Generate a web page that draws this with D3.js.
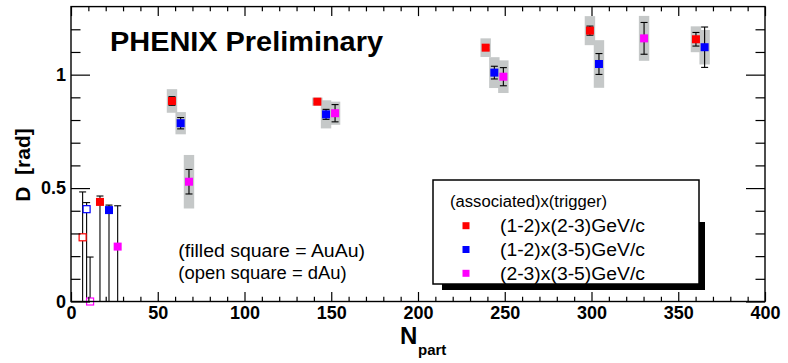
<!DOCTYPE html>
<html>
<head>
<meta charset="utf-8">
<script src="https://cdn.jsdelivr.net/npm/d3@7"></script>
<style>
  body { margin: 0; background: #fff; }
  svg { display: block; font-family: "Liberation Sans", Arial, Helvetica, sans-serif; }
</style>
</head>
<body>
<div id="chartArea"></div>
<script>
// (1-2)x(2-3) GeV/c, AuAu
const redN = [16.7, 58.2, 142.0, 239.0, 299.1, 360.2];
const redD = [0.439, 0.884, 0.881, 1.119, 1.194, 1.156];
const redUp = [0.026, 0.019, 0.008, 0.01, 0.02, 0.03];
const redLo = [0.439, 0.019, 0.008, 0.01, 0.02, 0.03];
const redSys = [0, 0.052, 0.018, 0.041, 0.064, 0.057];

// (1-2)x(3-5) GeV/c, AuAu
const blueN = [21.9, 63.2, 147.0, 244.0, 304.3, 365.2];
const blueD = [0.403, 0.786, 0.825, 1.009, 1.047, 1.121];
const blueUp = [0.022, 0.025, 0.022, 0.028, 0.046, 0.089];
const blueLo = [0.403, 0.025, 0.022, 0.028, 0.046, 0.089];
const blueSys = [0, 0.049, 0.062, 0.068, 0.105, 0.076];

// (2-3)x(3-5) GeV/c, AuAu
const magN = [26.9, 68.0, 152.2, 249.2, 330.3];
const magD = [0.242, 0.528, 0.830, 0.991, 1.160];
const magUp = [0.18, 0.054, 0.038, 0.04, 0.07];
const magLo = [0.242, 0.054, 0.038, 0.04, 0.07];
const magSys = [0, 0.118, 0.051, 0.072, 0.099];

// dAu (open squares), order red, blue, magenta
const dauN = [6.7, 9.0, 11.0];
const dauD = [0.283, 0.407, 0.0];
const dauUp = [0.2, 0.029, 0.196];
const dauLo = [0.283, 0.407, 0];

const legendTitle = "(associated)x(trigger)";
const legendLabels = ["(1-2)x(2-3)GeV/c", "(1-2)x(3-5)GeV/c", "(2-3)x(3-5)GeV/c"];
const colors = ["#ff0000", "#0000ff", "#ff00ff"];

const xMajor = d3.range(0, 401, 50);
const xMinor = d3.range(0, 401, 10).filter(v => v % 50 !== 0);
const yMajor = [0, 0.5, 1];
const yMinor = d3.range(1, 13).map(v => v / 10).filter(v => v !== 0.5 && v !== 1);

(function() {
  const W = 788, H = 363;
  const margin = { top: 6.6, right: 23, bottom: 61.5, left: 71 };

  const svg = d3
    .select("#chartArea")
    .append("svg")
    .attr("width", W)
    .attr("height", H);

  const xScale = d3.scaleLinear().domain([0, 400]).range([margin.left, W - margin.right]);
  const yScale = d3.scaleLinear().domain([0, 1.3]).range([H - margin.bottom, margin.top]);

  const x0 = xScale(0), x1 = xScale(400), y0 = yScale(0), y1 = yScale(1.3);

  const series = [
    { n: redN, d: redD, up: redUp, lo: redLo, sys: redSys, c: colors[0] },
    { n: blueN, d: blueD, up: blueUp, lo: blueLo, sys: blueSys, c: colors[1] },
    { n: magN, d: magD, up: magUp, lo: magLo, sys: magSys, c: colors[2] }
  ];
  const pts = [];
  series.forEach(s => {
    s.n.forEach((n, i) => pts.push({ n, d: s.d[i], up: s.up[i], lo: s.lo[i], sys: s.sys[i], c: s.c, open: false }));
  });
  dauN.forEach((n, i) => pts.push({ n, d: dauD[i], up: dauUp[i], lo: dauLo[i], sys: 0, c: colors[i], open: true }));

  const plot = svg.append("g");

  // systematic boxes
  const boxHalf = 3;
  plot.selectAll("rect.sys")
    .data(pts.filter(p => p.sys > 0))
    .enter()
    .append("rect")
    .attr("class", "sys")
    .attr("x", p => xScale(p.n - boxHalf))
    .attr("y", p => yScale(p.d + p.sys))
    .attr("width", p => xScale(p.n + boxHalf) - xScale(p.n - boxHalf))
    .attr("height", p => yScale(p.d - p.sys) - yScale(p.d + p.sys))
    .attr("fill", "#c5c8c8");

  // stat error bars
  const cap = 3.5;
  const eg = plot.append("g").attr("stroke", "#000").attr("stroke-width", 1.1).attr("fill", "none");
  pts.forEach(p => {
    const cx = xScale(p.n);
    const top = yScale(Math.min(p.d + p.up, 1.3));
    const bot = yScale(Math.max(p.d - p.lo, 0));
    eg.append("line").attr("x1", cx).attr("x2", cx).attr("y1", top).attr("y2", bot);
    eg.append("line").attr("x1", cx - cap).attr("x2", cx + cap).attr("y1", top).attr("y2", top);
    if (p.d - p.lo > 0) {
      eg.append("line").attr("x1", cx - cap).attr("x2", cx + cap).attr("y1", bot).attr("y2", bot);
    }
  });

  // markers
  const ms = 8;
  plot.selectAll("rect.mk")
    .data(pts)
    .enter()
    .append("rect")
    .attr("class", "mk")
    .attr("x", p => xScale(p.n) - (p.open ? ms - 1 : ms) / 2)
    .attr("y", p => yScale(p.d) - (p.open ? ms - 1 : ms) / 2)
    .attr("width", p => p.open ? ms - 1 : ms)
    .attr("height", p => p.open ? ms - 1 : ms)
    .attr("fill", p => p.open ? "#fff" : p.c)
    .attr("stroke", p => p.open ? p.c : "none")
    .attr("stroke-width", 1.2);

  // axes: ticks point inward on all four sides
  const noDomain = g => g.select(".domain").remove();
  const styleTicks = g => g.selectAll("line").attr("stroke", "#000").attr("stroke-width", 1.2);

  svg.append("g")
    .attr("transform", "translate(0," + y0 + ")")
    .call(d3.axisBottom(xScale).tickValues(xMajor).tickSize(-9.5).tickPadding(4.7).tickFormat(d3.format("d")))
    .call(noDomain).call(styleTicks)
    .call(g => g.selectAll("text").attr("font-family", "Liberation Sans, Arial, sans-serif")
      .attr("font-size", 18).attr("font-weight", "bold").attr("fill", "#000"));
  svg.append("g")
    .attr("transform", "translate(0," + y0 + ")")
    .call(d3.axisBottom(xScale).tickValues(xMinor).tickSize(-4.75).tickFormat(""))
    .call(noDomain).call(styleTicks);
  svg.append("g")
    .attr("transform", "translate(0," + y1 + ")")
    .call(d3.axisTop(xScale).tickValues(xMajor).tickSize(-9.5).tickFormat(""))
    .call(noDomain).call(styleTicks);
  svg.append("g")
    .attr("transform", "translate(0," + y1 + ")")
    .call(d3.axisTop(xScale).tickValues(xMinor).tickSize(-4.75).tickFormat(""))
    .call(noDomain).call(styleTicks);

  svg.append("g")
    .attr("transform", "translate(" + x0 + ",0)")
    .call(d3.axisLeft(yScale).tickValues(yMajor).tickSize(-19).tickPadding(5).tickFormat(d3.format("~g")))
    .call(noDomain).call(styleTicks)
    .call(g => g.selectAll("text").attr("font-family", "Liberation Sans, Arial, sans-serif")
      .attr("font-size", 18).attr("font-weight", "bold").attr("fill", "#000"));
  svg.append("g")
    .attr("transform", "translate(" + x0 + ",0)")
    .call(d3.axisLeft(yScale).tickValues(yMinor).tickSize(-9.5).tickFormat(""))
    .call(noDomain).call(styleTicks);
  svg.append("g")
    .attr("transform", "translate(" + x1 + ",0)")
    .call(d3.axisRight(yScale).tickValues(yMajor).tickSize(-19).tickFormat(""))
    .call(noDomain).call(styleTicks);
  svg.append("g")
    .attr("transform", "translate(" + x1 + ",0)")
    .call(d3.axisRight(yScale).tickValues(yMinor).tickSize(-9.5).tickFormat(""))
    .call(noDomain).call(styleTicks);

  // frame
  svg.append("rect")
    .attr("x", x0).attr("y", y1)
    .attr("width", x1 - x0).attr("height", y0 - y1)
    .attr("fill", "none").attr("stroke", "#000").attr("stroke-width", 1.4);

  // axis titles
  svg.append("text")
    .attr("transform", "translate(30,165) rotate(-90)")
    .attr("text-anchor", "middle")
    .attr("font-size", 21).attr("font-weight", "bold")
    .attr("xml:space", "preserve")
    .text("D  [rad]");
  svg.append("text")
    .attr("x", 400).attr("y", 344)
    .attr("font-size", 24).attr("font-weight", "bold")
    .text("N");
  svg.append("text")
    .attr("x", 418).attr("y", 355)
    .attr("font-size", 15).attr("font-weight", "bold")
    .text("part");

  // title
  svg.append("text")
    .attr("x", 110).attr("y", 50.7)
    .attr("font-size", 27).attr("font-weight", "bold")
    .attr("textLength", 273).attr("lengthAdjust", "spacingAndGlyphs")
    .text("PHENIX Preliminary");

  // notes
  svg.append("text")
    .attr("x", 178.3).attr("y", 256.6)
    .attr("font-size", 17.5)
    .attr("textLength", 186.7).attr("lengthAdjust", "spacingAndGlyphs")
    .text("(filled square = AuAu)");
  svg.append("text")
    .attr("x", 178.3).attr("y", 279.4)
    .attr("font-size", 17.5)
    .attr("textLength", 168.4).attr("lengthAdjust", "spacingAndGlyphs")
    .text("(open square = dAu)");

  // legend
  const lg = svg.append("g");
  lg.append("rect").attr("x", 442).attr("y", 222).attr("width", 263).attr("height", 68).attr("fill", "#000");
  lg.append("rect").attr("x", 433).attr("y", 180).attr("width", 266).attr("height", 104)
    .attr("fill", "#fff").attr("stroke", "#000").attr("stroke-width", 1.5);
  lg.append("text")
    .attr("x", 450).attr("y", 206.8)
    .attr("font-size", 16)
    .attr("textLength", 157).attr("lengthAdjust", "spacingAndGlyphs")
    .text(legendTitle);
  legendLabels.forEach((lab, i) => {
    const cy = 225.7 + i * 23.8;
    lg.append("rect").attr("x", 462.5).attr("y", cy - 3.5).attr("width", 7).attr("height", 7).attr("fill", colors[i]);
    lg.append("text")
      .attr("x", 500).attr("y", cy + 6.6)
      .attr("font-size", 18)
      .attr("textLength", 145).attr("lengthAdjust", "spacingAndGlyphs")
      .text(lab);
  });
})();
</script>
</body>
</html>
